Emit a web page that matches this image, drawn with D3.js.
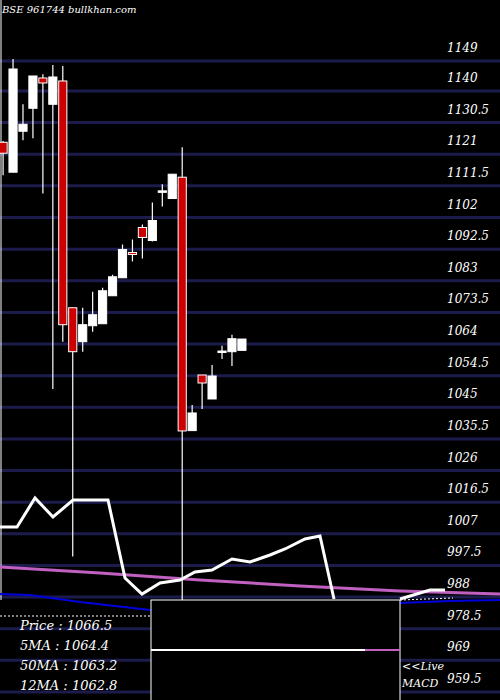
<!DOCTYPE html>
<html><head><meta charset="utf-8">
<script src="https://cdn.jsdelivr.net/npm/d3@7"></script>
<style>body{margin:0;background:#000}svg{display:block}</style>
</head><body><svg id="c" width="500" height="700"></svg>
<script>
// candle data
var opens  = [1124.6,1115.6,1127.9,1134.8,1143.9,1136,1143,1074.9,1064.7,1069.5,1070.1,1078.5,1083.9,1091.5,1099,1095.1,1109.6,1107.7,1114.1,1038,1054.7,1047.5,1061.5,1061.7,1062.1];
var closes = [1121.3,1146.6,1130,1144.5,1142.4,1144.2,1069.8,1061.7,1069.8,1072.8,1080,1084.2,1092.4,1090.9,1096,1101.1,1110,1115,1037.9,1043.3,1052.3,1054.4,1061.9,1065.6,1065.5];
var highs  = [1125,1149.6,1136,1144.5,1145,1147.8,1147.5,1074.9,1074.9,1079.7,1080.9,1084.8,1093.9,1095.4,1099.9,1106.5,1112,1115,1123.1,1045.7,1054.7,1057.7,1063.5,1066.8,1065.5];
var lows   = [1114.7,1115.6,1125.2,1125.8,1109.2,1050.5,1064.7,1000.2,1061.7,1067.7,1070.1,1078.5,1083.9,1088.8,1089.7,1094.8,1105.3,1107.7,958,1038,1044.5,1047.5,1059.5,1057.4,1062.1];
var ticks = [1149,1140,1130.5,1121,1111.5,1102,1092.5,1083,1073.5,1064,1054.5,1045,1035.5,1026,1016.5,1007,997.5,988,978.5,969,959.5];
// indicator lines (pixel-free units 0..100, 100 = top of panel)
var macdX = [0,17,35,53,73,108,125,142,160,180,195,212,232,250,270,285,305,320,334];
var macdV = [73,73,102,83,100,100,22,6,17,20,28,30,41,38,45,51,61,64,1];
var macdX2 = [400,430,445];
var macdV2 = [1,10,10];
var sigX = [0,100,200,300,400,500];
var sigV = [33,27,20,14,9,6];
var blueX = [0,30,80,150,400,450,500];
var blueV = [6,5,-2,-10,-3,-1,0];
var info = ["Price   : 1066.5","5MA : 1064.4","50MA : 1063.2","12MA : 1062.8"];

var svg = d3.select("#c");
var y = d3.scaleLinear().domain([959.5,1149]).range([692,61]);
var x = d3.scaleBand().domain(d3.range(opens.length)).range([-1,246]).paddingInner(0.18);
var yi = d3.scaleLinear().domain([0,100]).range([600,500]);

svg.append("rect").attr("width",500).attr("height",700).attr("fill","#000");
svg.selectAll(".g").data(ticks).enter().append("line")
  .attr("x1",0).attr("x2",500).attr("y1",d=>y(d)).attr("y2",d=>y(d))
  .attr("stroke","#1c1c4c").attr("stroke-width",3);
svg.selectAll(".t").data(ticks).enter().append("text")
  .attr("x",447).attr("y",d=>y(d)-9).text(d=>d)
  .attr("fill","#fff").attr("font-family","DejaVu Serif").attr("font-style","italic").attr("font-size",12);
svg.append("line").attr("x1",1).attr("x2",1).attr("y1",0).attr("y2",600).attr("stroke","#fff");
svg.append("text").attr("x",2).attr("y",13).text("BSE 961744  bullkhan.com")
  .attr("fill","#fff").attr("font-family","DejaVu Serif").attr("font-style","italic").attr("font-size",10);

var c = svg.selectAll(".c").data(opens).enter().append("g");
c.append("line").attr("x1",(d,i)=>x(i)+x.bandwidth()/2).attr("x2",(d,i)=>x(i)+x.bandwidth()/2)
  .attr("y1",(d,i)=>y(highs[i])).attr("y2",(d,i)=>y(lows[i])).attr("stroke","#fff").attr("stroke-width",1.2);
c.append("rect").attr("x",(d,i)=>x(i)).attr("width",x.bandwidth())
  .attr("y",(d,i)=>y(Math.max(d,closes[i])))
  .attr("height",(d,i)=>Math.max(1.5,Math.abs(y(d)-y(closes[i]))))
  .attr("fill",(d,i)=>closes[i]<d?"#cc0000":"#fff").attr("stroke","#fff").attr("stroke-width",1);

var line = d3.line().x(d=>d[0]).y(d=>yi(d[1]));
svg.append("path").attr("d",line(sigX.map((v,i)=>[v,sigV[i]]))).attr("fill","none").attr("stroke","#c060c0").attr("stroke-width",3);
svg.append("path").attr("d",line(blueX.map((v,i)=>[v,blueV[i]]))).attr("fill","none").attr("stroke","#0000dd").attr("stroke-width",2);
svg.append("line").attr("x1",0).attr("x2",150).attr("y1",616).attr("y2",616).attr("stroke","#fff").attr("stroke-dasharray","2,2");
svg.append("line").attr("x1",400).attr("x2",453).attr("y1",600).attr("y2",598).attr("stroke","#fff").attr("stroke-dasharray","2,2");
svg.append("path").attr("d",line(macdX.map((v,i)=>[v,macdV[i]]))).attr("fill","none").attr("stroke","#fff").attr("stroke-width",3);
svg.append("path").attr("d",line(macdX2.map((v,i)=>[v,macdV2[i]]))).attr("fill","none").attr("stroke","#fff").attr("stroke-width",3);

svg.append("rect").attr("x",151).attr("y",600).attr("width",249).attr("height",102).attr("fill","#000").attr("stroke","#fff");
svg.append("line").attr("x1",151).attr("x2",365).attr("y1",650).attr("y2",650).attr("stroke","#fff").attr("stroke-width",2);
svg.append("line").attr("x1",365).attr("x2",400).attr("y1",650).attr("y2",650).attr("stroke","#c060c0").attr("stroke-width",2);

svg.selectAll(".i").data(info).enter().append("text")
  .attr("x",20).attr("y",(d,i)=>630+i*20).text(d=>d)
  .attr("fill","#fff").attr("font-family","DejaVu Serif").attr("font-style","italic").attr("font-size",13);
svg.append("text").attr("x",402).attr("y",670).text("<<Live").attr("fill","#fff").attr("font-family","DejaVu Serif").attr("font-style","italic").attr("font-size",11);
svg.append("text").attr("x",402).attr("y",687).text("MACD").attr("fill","#fff").attr("font-family","DejaVu Serif").attr("font-style","italic").attr("font-size",11);
</script></body></html>
